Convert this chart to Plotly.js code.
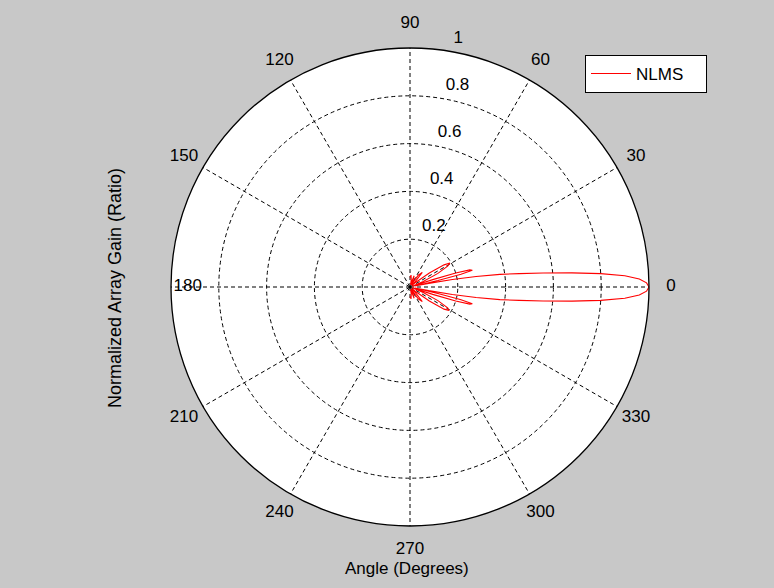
<!DOCTYPE html>
<html>
<head>
<meta charset="utf-8">
<script src="https://cdn.plot.ly/plotly-3.0.1.min.js"></script>
<style>html,body{margin:0;padding:0;background:#c8c8c8;}#chart{width:774px;height:588px;}</style>
</head>
<body>
<div id="chart"></div>
<script>
// Beam pattern (angle in degrees, normalized gain)
const thetaDeg = [-90,-85,-80,-75,-70,-65,-60,-55,-50,-45,-41,-39,-36,-33,-31,-29,-26,-23,-20,-19,-18,-17,-16,-15,-14,-13,-12,-11,-10,-9,-8,-7,-6,-5,-4,-3,-2,-1,0,
                  1,2,3,4,5,6,7,8,9,10,11,12,13,14,15,16,17,18,19,20,23,26,29,31,33,36,39,41,45,50,55,60,65,70,75,80,85,90];
const gainNLMS = [0.04,0.05,0.03,0.01,0.05,0.03,0.01,0.06,0.08,0.03,0.01,0.03,0.10,0.17,0.19,0.18,0.13,0.06,0.01,0.02,0.10,0.20,0.26,0.27,0.22,0.12,0.02,0.08,0.18,0.28,0.38,0.46,0.56,0.68,0.80,0.90,0.96,0.99,1.00,
                  0.99,0.96,0.90,0.80,0.68,0.56,0.46,0.38,0.28,0.18,0.08,0.02,0.12,0.22,0.27,0.26,0.20,0.10,0.02,0.01,0.06,0.13,0.18,0.195,0.17,0.10,0.03,0.01,0.03,0.08,0.06,0.01,0.03,0.05,0.01,0.03,0.05,0.04];
const radialTicks = [0.2, 0.4, 0.6, 0.8, 1];
const radialTickText = ['0.2', '0.4', '0.6', '0.8', '1'];
const angularTicks = [0,30,60,90,120,150,180,210,240,270,300,330];
const angularTickText = ['0','30','60','90','120','150','180','210','240','270','300','330'];

const font = 'Liberation Sans, Arial, sans-serif';
const fs = 17;
// geometry (style): plot centre and radius in pixels, label ring factor
const W = 774, H = 588, CX = 410, CY = 287, R = 239, RING = 1.1;
const spokeLabelR = angularTicks.map(a => a === 180 ? 0.93 : (a % 180 === 90 ? 1.1 : 1.092));

const traces = [
  {
    type: 'scatterpolar', mode: 'lines', name: 'NLMS',
    r: gainNLMS, theta: thetaDeg,
    line: {color: '#ff0000', width: 1.1}
  },
  {
    type: 'scatterpolar', mode: 'markers+text', showlegend: false, hoverinfo: 'skip',
    r: radialTicks, theta: radialTicks.map(() => 80.5),
    marker: {size: 5, color: 'rgba(0,0,0,0)'},
    text: radialTickText, textposition: 'top right',
    textfont: {family: font, size: fs, color: '#000'},
    cliponaxis: false
  },
  {
    type: 'scatterpolar', subplot: 'polar2', mode: 'text', showlegend: false, hoverinfo: 'skip',
    r: spokeLabelR, theta: angularTicks,
    text: angularTickText, textposition: 'middle center',
    textfont: {family: font, size: fs, color: '#000'},
    cliponaxis: false
  }
];

const layout = {
  width: W, height: H,
  paper_bgcolor: '#c8c8c8',
  margin: {l: 0, r: 0, t: 0, b: 0},
  showlegend: true,
  legend: {
    orientation: 'h',
    x: 585/W, y: 1 - 55/H, xanchor: 'left', yanchor: 'top',
    bgcolor: '#ffffff', bordercolor: '#000000', borderwidth: 1,
    itemwidth: 40, entrywidth: 65,
    font: {family: font, size: fs, color: '#000'}
  },
  polar: {
    domain: {x: [(CX - R)/W, (CX + R)/W], y: [(H - CY - R)/H, (H - CY + R)/H]},
    bgcolor: '#ffffff',
    radialaxis: {
      range: [0, 1], tickvals: radialTicks, showticklabels: false,
      showline: false, ticks: '',
      gridcolor: '#000000', griddash: '4px,3px', gridwidth: 1
    },
    angularaxis: {
      rotation: 0, direction: 'counterclockwise',
      tickvals: angularTicks, showticklabels: false, ticks: '',
      showline: true, linecolor: '#000000', linewidth: 1.3,
      gridcolor: '#000000', griddash: '4px,3px', gridwidth: 1
    }
  },
  polar2: {
    domain: {x: [(CX - R*RING)/W, (CX + R*RING)/W], y: [(H - CY - R*RING)/H, (H - CY + R*RING)/H]},
    bgcolor: 'rgba(0,0,0,0)',
    radialaxis: {range: [0, RING], visible: false},
    angularaxis: {rotation: 0, direction: 'counterclockwise', visible: false}
  },
  annotations: [
    {text: 'Normalized Array Gain (Ratio)', xref: 'paper', yref: 'paper', x: 115/W, y: 1 - 288/H,
     xanchor: 'center', yanchor: 'middle',
     textangle: -90, showarrow: false, font: {family: font, size: 18, color: '#000'}},
    {text: 'Angle (Degrees)', xref: 'paper', yref: 'paper', x: 407/W, y: 1 - 568/H,
     xanchor: 'center', yanchor: 'middle',
     showarrow: false, font: {family: font, size: fs, color: '#000'}}
  ]
};

Plotly.newPlot('chart', traces, layout, {displayModeBar: false, staticPlot: true});
</script>
</body>
</html>
